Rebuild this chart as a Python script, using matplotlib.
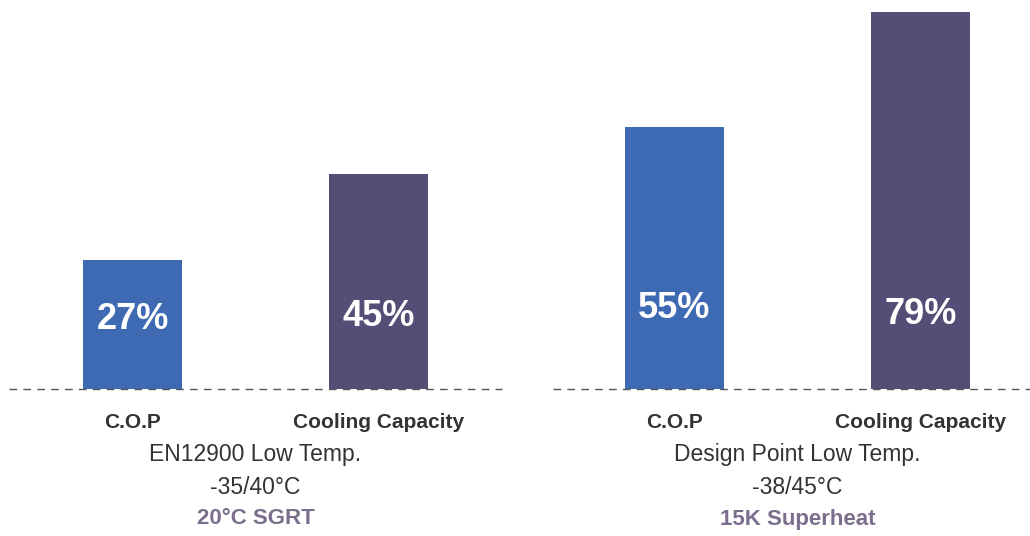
import numpy as np
import matplotlib
matplotlib.use('Agg')
import matplotlib.pyplot as plt

plt.rcParams['font.family'] = ['Liberation Sans', 'DejaVu Sans']

# data
metrics = ['C.O.P', 'Cooling Capacity']
group_titles = ['EN12900 Low Temp.', 'Design Point Low Temp.']
group_conditions = ['-35/40°C', '-38/45°C']
group_notes = ['20°C SGRT', '15K Superheat']
gains = [[27, 45], [55, 79]]

BLUE = '#3E6AB3'
PURPLE = '#544D75'
NOTE = '#7B6E8C'
TEXT = '#333333'

fig = plt.figure(figsize=(10.3, 5.36), dpi=100)
ax = fig.add_axes([0, 0, 1, 1])
ax.set_xlim(0, 1030)
px = 4.77  # pixels per percent
ax.set_ylim(-147 / px, 389 / px)
ax.axis('off')

group_centers = [255.5, 797.5]
offset = 123
bar_w = 99
label_y = [320, 317, 309, 315]  # pixel rows of the value labels
seg = [(9, 502), (553, 1030)]

k = 0
for g, gc in enumerate(group_centers):
    xs = [gc - offset, gc + offset]
    ax.bar(xs, gains[g], width=bar_w, color=[BLUE, PURPLE], zorder=2)
    for x, v, name in zip(xs, gains[g], metrics):
        ax.text(x, (389 - label_y[k]) / px, f'{v}%', ha='center', va='center',
                color='white', fontsize=26, fontweight='bold', zorder=3)
        ax.text(x, (389 - 423) / px, name, ha='center', va='center',
                color=TEXT, fontsize=15, fontweight='bold')
        k += 1
    ax.hlines(0, seg[g][0], seg[g][1], colors='#555555', linestyles=(0, (5.5, 4.5)),
              linewidth=1.0, zorder=4)
    ax.text(gc, (389 - 455) / px, group_titles[g], ha='center', va='center',
            color=TEXT, fontsize=16.5)
    ax.text(gc, (389 - 487) / px, group_conditions[g], ha='center', va='center',
            color=TEXT, fontsize=16.5)
    ax.text(gc, (389 - 519) / px, group_notes[g], ha='center', va='center',
            color=NOTE, fontsize=16, fontweight='bold')

fig.savefig('out.png', dpi=100)
